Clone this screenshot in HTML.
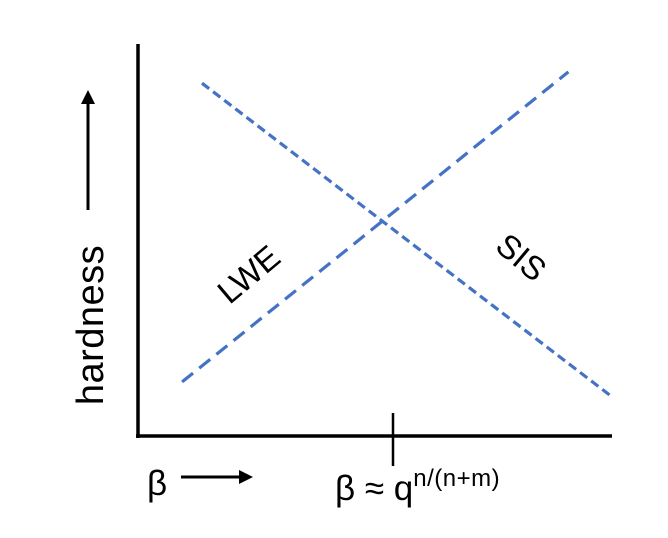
<!DOCTYPE html>
<html><head><meta charset="utf-8"><style>
html,body{margin:0;padding:0;background:#fff;}
svg{display:block;font-family:"Liberation Sans","DejaVu Sans",sans-serif;}
</style></head><body>
<svg id="chart" width="668" height="538" viewBox="0 0 668 538">
<g id="axes">
<line x1="138" y1="44" x2="138" y2="438" stroke="#000" stroke-width="3.5"/>
<line x1="136" y1="436" x2="612" y2="436" stroke="#000" stroke-width="3.5"/>
<line x1="393" y1="413" x2="393" y2="466" stroke="#000" stroke-width="2.5"/>
</g>
<g id="series"></g>
<g>
<line x1="88" y1="210" x2="88" y2="102" stroke="#000" stroke-width="3"/>
<polygon points="88,90 81,104 95,104" fill="#000"/>
<text x="0" y="0" transform="translate(103,325) rotate(-90)" text-anchor="middle" font-size="38" letter-spacing="0.5" fill="#000">hardness</text>
</g>
<g>
<text x="147" y="495" font-size="35" fill="#000">β</text>
<line x1="181" y1="477" x2="240" y2="477" stroke="#000" stroke-width="3"/>
<polygon points="253,477 239,470 239,484" fill="#000"/>
<text x="335" y="500" font-size="35" fill="#000">β ≈ q<tspan font-size="24" dy="-14" letter-spacing="0.5">n/(n+m)</tspan></text>
</g>
<text transform="translate(256,283) rotate(-40)" text-anchor="middle" font-size="33" fill="#000">LWE</text>
<text transform="translate(514,266) rotate(40)" text-anchor="middle" font-size="33" fill="#000">SIS</text>
</svg>
<script>
// data: beta (x, 0..10) and hardness (y, 0..10)
const seriesNames = ["LWE", "SIS"];
const lweX = [0.93, 9.08];
const lweY = [1.38, 9.29];
const sisX = [1.35, 10];
const sisY = [9.0, 1.0];
const xScale = v => 138 + v * 47.4;
const yScale = v => 436 - v * 39.2;
const g = document.getElementById('series');
const NS = 'http://www.w3.org/2000/svg';
function drawSeries(xs, ys, name, dash) {
  const p = document.createElementNS(NS, 'polyline');
  p.setAttribute('points', xs.map((x, i) => xScale(x) + ',' + yScale(ys[i])).join(' '));
  p.setAttribute('fill', 'none');
  p.setAttribute('stroke', '#4472C4');
  p.setAttribute('stroke-width', '3.2');
  p.setAttribute('stroke-dasharray', dash);
  
  
  g.appendChild(p);
}
drawSeries(lweX, lweY, 'lwe-line', '14 8');
drawSeries(sisX, sisY, 'sis-line', '9 5');
</script>
</body></html>
